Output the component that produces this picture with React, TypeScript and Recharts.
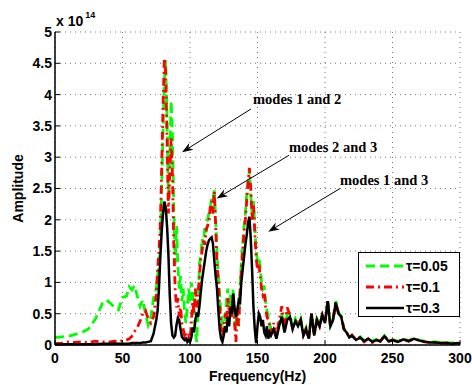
import React from "react";
import { LineChart, Line, XAxis, YAxis, CartesianGrid, ReferenceLine, ReferenceDot } from "recharts";

// frequency grid (Hz)
const FREQ = [
  0, 5, 10, 15, 20, 25, 30, 35, 38, 41, 44, 47, 50, 53, 55, 57, 59, 61, 63, 65, 67, 69, 71, 73, 75,
  76, 77, 78, 79, 80, 81, 82, 83, 84, 85,
  86, 87, 88, 89, 90, 91, 92, 93, 94, 95,
  96, 97, 98, 99, 100, 101, 102, 103, 104, 105,
  106, 107, 108, 109, 110, 111, 112, 113, 114, 115,
  116, 117, 118, 119, 120, 121, 122, 123, 124, 125,
  126, 127, 128, 129, 130, 131, 132, 133, 134, 135,
  136, 137, 138, 139, 140, 141, 142, 143, 144, 145,
  146, 147, 148, 149, 150, 151, 152, 153, 154, 155,
  156, 157, 158, 159, 160,
  162, 164, 166, 168, 170, 172, 174, 176, 178, 180,
  182, 184, 186, 188, 190, 192, 194, 196, 198, 200,
  202, 204, 206, 208, 210, 212, 214, 216, 218, 220,
  223, 226, 229, 232, 235, 238, 241, 244, 247, 250,
  254, 258, 262, 266, 270, 274, 278, 282, 286, 290, 294, 298, 300,
];

// amplitude, x 10^14
const TAU_005 = [
  0.12, 0.13, 0.14, 0.17, 0.2, 0.26, 0.42, 0.66, 0.72, 0.67, 0.6, 0.56, 0.76, 0.78, 0.93, 0.88, 0.95, 0.78, 0.62, 0.72, 0.5, 0.32, 0.45, 0.75, 0.9,
  1.1, 1.3, 1.6, 2.5, 3.4, 4.2, 4.55, 3.6, 2.3, 3.0,
  3.9, 3.4, 2.2, 1.3, 1.9, 1.3, 0.9, 1.1, 0.7, 0.9,
  0.5, 0.35, 0.6, 0.9, 0.7, 1.0, 0.8, 0.5, 0.2, 0.05,
  0.6, 1.3, 1.45, 1.7, 1.6, 1.9, 1.8, 2.0, 2.1, 2.2,
  2.35, 2.3, 2.5, 2.0, 1.5, 1.1, 0.8, 0.5, 0.35, 0.2,
  0.4, 0.7, 0.9, 0.6, 0.8, 0.5, 0.9, 0.4, 0.25, 0.6,
  0.35, 0.9, 1.3, 1.6, 1.9, 2.1, 2.4, 2.6, 2.8, 2.4,
  2.1, 2.3, 1.9, 1.5, 1.35, 1.4, 1.25, 1.0, 0.9, 0.95,
  0.7, 0.55, 0.45, 0.35, 0.25,
  0.3, 0.15, 0.35, 0.5, 0.25, 0.5, 0.5, 0.3, 0.42, 0.32,
  0.42, 0.18, 0.28, 0.12, 0.48, 0.18, 0.42, 0.32, 0.5, 0.38,
  0.72, 0.32, 0.42, 0.7, 0.52, 0.47, 0.27, 0.2, 0.13, 0.15,
  0.09, 0.13, 0.07, 0.11, 0.06, 0.09, 0.07, 0.15, 0.07, 0.09,
  0.06, 0.1, 0.07, 0.11, 0.08, 0.06, 0.05, 0.05, 0.04, 0.04, 0.03, 0.05, 0.02,
];

const TAU_01 = [
  0.02, 0.03, 0.05, 0.04, 0.05, 0.04, 0.06, 0.05, 0.05, 0.05, 0.06, 0.05, 0.07, 0.08, 0.1, 0.14, 0.22, 0.28, 0.38, 0.5, 0.55, 0.42, 0.35, 0.45, 0.8,
  1.2, 1.5, 1.9, 2.8, 3.8, 4.58, 4.35, 3.3, 2.1, 2.7,
  3.3, 2.7, 1.6, 0.9, 0.6, 0.75, 0.45, 0.6, 0.35, 0.25,
  0.15, 0.2, 0.05, 0.12, 0.05, 0.35, 0.7, 0.5, 0.9, 0.6,
  0.8, 1.1, 1.4, 1.5, 1.7, 1.6, 1.85, 1.9, 2.0, 2.2,
  2.3, 2.1, 2.45, 1.9, 1.3, 1.0, 0.6, 0.3, 0.1, 0.25,
  0.5, 0.35, 0.75, 0.5, 0.65, 0.45, 0.8, 0.35, 0.05, 0.5,
  0.3, 0.8, 1.2, 1.5, 1.8, 2.0, 2.3, 2.6, 2.83, 2.5,
  2.0, 2.25, 1.8, 1.4, 1.2, 1.3, 1.1, 0.9, 0.8, 0.85,
  0.6, 0.45, 0.4, 0.3, 0.2,
  0.35, 0.12, 0.4, 0.62, 0.22, 0.6, 0.48, 0.28, 0.4, 0.34,
  0.4, 0.16, 0.26, 0.1, 0.5, 0.16, 0.4, 0.3, 0.48, 0.36,
  0.7, 0.3, 0.42, 0.68, 0.5, 0.46, 0.26, 0.2, 0.12, 0.16,
  0.08, 0.12, 0.05, 0.1, 0.04, 0.08, 0.06, 0.15, 0.05, 0.08,
  0.05, 0.09, 0.06, 0.1, 0.07, 0.05, 0.04, 0.04, 0.03, 0.03, 0.02, 0.03, 0.02,
];

const TAU_03 = [
  0.01, 0.01, 0.01, 0.01, 0.01, 0.01, 0.01, 0.02, 0.02, 0.02, 0.02, 0.02, 0.02, 0.02, 0.02, 0.03, 0.03, 0.03, 0.03, 0.04, 0.04, 0.05, 0.06, 0.18, 0.4,
  0.55, 0.9, 1.4, 1.8, 2.1, 2.29, 2.2, 1.9, 1.45, 0.8,
  0.35, 0.15, 0.12, 0.15, 0.32, 0.43, 0.4, 0.25, 0.13, 0.1,
  0.08, 0.1, 0.05, 0.08, 0.05, 0.12, 0.28, 0.2, 0.4, 0.52,
  0.45, 0.62, 0.85, 1.05, 1.2, 1.35, 1.5, 1.6, 1.67, 1.7,
  1.72, 1.62, 1.35, 1.1, 0.9, 0.55, 0.25, 0.1, 0.05, 0.15,
  0.3, 0.2, 0.45, 0.3, 0.6, 0.5, 0.82, 0.6, 0.45, 0.55,
  0.7, 0.65, 1.0, 1.2, 1.4, 1.6, 1.75, 1.95, 2.05, 1.7,
  1.2, 0.6, 0.25, 0.03, 0.3, 0.5, 0.45, 0.3, 0.4, 0.2,
  0.15, 0.3, 0.1, 0.2, 0.15,
  0.25, 0.1, 0.3, 0.45, 0.2, 0.4, 0.45, 0.25, 0.38, 0.3,
  0.4, 0.15, 0.25, 0.1, 0.5, 0.15, 0.4, 0.3, 0.48, 0.35,
  0.7, 0.3, 0.4, 0.68, 0.5, 0.45, 0.25, 0.2, 0.12, 0.15,
  0.08, 0.12, 0.06, 0.1, 0.05, 0.08, 0.06, 0.14, 0.06, 0.08,
  0.05, 0.09, 0.06, 0.1, 0.07, 0.05, 0.04, 0.04, 0.03, 0.03, 0.02, 0.03, 0.02,
];

const X_TICKS = [0, 50, 100, 150, 200, 250, 300];
const Y_TICKS = [0, 0.5, 1, 1.5, 2, 2.5, 3, 3.5, 4, 4.5, 5];

const SERIES = [
  { key: "g", name: "τ=0.05", color: "#00ff00", dash: "9 5" },
  { key: "r", name: "τ=0.1", color: "#ff0000", dash: "8 4 2 4" },
  { key: "k", name: "τ=0.3", color: "#000000", dash: undefined },
];

// annotation text anchor + arrow (data coordinates)
const NOTES = [
  { text: "modes 1 and 2", at: [146.7, 3.85], from: [145.2, 3.77], to: [94.1, 3.08] },
  { text: "modes 2 and 3", at: [173.3, 3.09], from: [173.3, 3.03], to: [119.8, 2.34] },
  { text: "modes 1 and 3", at: [211.1, 2.56], from: [211.1, 2.5], to: [158.0, 1.81] },
];

const data = FREQ.map((f, i) => ({ f, g: TAU_005[i], r: TAU_01[i], k: TAU_03[i] }));

const SANS = "'Liberation Sans', Arial, Helvetica, sans-serif";
const SERIF = "'Liberation Serif', 'Times New Roman', serif";
const tickStyle = { fontFamily: SANS, fontWeight: "bold", fontSize: 14, fill: "#000" };

const Arrow = (p: any) => {
  const { x1, y1, x2, y2 } = p;
  const a = Math.atan2(y2 - y1, x2 - x1);
  const c = Math.cos(a), s = Math.sin(a);
  const L = 11, W = 4;
  const bx = x2 - L * c, by = y2 - L * s;
  const nx = x2 - L * 0.7 * c, ny = y2 - L * 0.7 * s;
  const pts = [
    [x2, y2],
    [bx - s * W, by + c * W],
    [nx, ny],
    [bx + s * W, by - c * W],
  ].map((q) => q.join(",")).join(" ");
  return (
    <g>
      <line x1={x1} y1={y1} x2={nx} y2={ny} stroke="#000" strokeWidth={1} />
      <polygon points={pts} fill="#000" />
    </g>
  );
};

export default function App() {
  return (
    <div style={{ position: "absolute", left: 0, top: 0, width: 472, height: 385, background: "#fff" }}>
      <LineChart width={472} height={385} data={data} margin={{ top: 32, right: 12, left: 0, bottom: 0 }}>
        <CartesianGrid stroke="#777" strokeDasharray="1 4" />
        <XAxis
          dataKey="f"
          type="number"
          domain={[0, 300]}
          ticks={X_TICKS}
          height={40}
          tick={tickStyle}
          tickSize={-5}
          tickMargin={13}
          stroke="#000"
          axisLine={{ stroke: "#000", strokeWidth: 1.5 }}
          label={{ value: "Frequency(Hz)", position: "insideBottom", offset: 4, style: { ...tickStyle } }}
        />
        <XAxis xAxisId="top" orientation="top" type="number" domain={[0, 300]} ticks={X_TICKS} height={0} tick={false} tickSize={-5} stroke="#000" />
        <YAxis
          type="number"
          domain={[0, 5]}
          ticks={Y_TICKS}
          width={55}
          tick={tickStyle}
          tickSize={-5}
          tickMargin={8}
          stroke="#000"
          axisLine={{ stroke: "#000", strokeWidth: 1.5 }}
          label={{ value: "Amplitude", angle: -90, position: "insideLeft", offset: 18, style: { ...tickStyle, textAnchor: "middle" } }}
        />
        <YAxis yAxisId="right" orientation="right" type="number" domain={[0, 5]} ticks={Y_TICKS} width={0} tick={false} tickSize={-5} stroke="#000" />
        {SERIES.map((s) => (
          <Line
            key={s.key}
            dataKey={s.key}
            type="linear"
            stroke={s.color}
            strokeWidth={s.dash ? 2.8 : 2.5}
            strokeDasharray={s.dash}
            dot={false}
            activeDot={false}
            isAnimationActive={false}
          />
        ))}
        {NOTES.map((n) => (
          <ReferenceLine
            key={"l" + n.text}
            segment={[{ x: n.from[0], y: n.from[1] }, { x: n.to[0], y: n.to[1] }]}
            shape={Arrow}
          />
        ))}
        {NOTES.map((n) => (
          <ReferenceDot
            key={"t" + n.text}
            x={n.at[0]}
            y={n.at[1]}
            r={0}
            shape={(p: any) => (
              <text x={p.cx} y={p.cy} fontFamily={SERIF} fontWeight="bold" fontSize={14.5} fill="#000">
                {n.text}
              </text>
            )}
          />
        ))}
      </LineChart>
      <svg width={472} height={40} style={{ position: "absolute", left: 0, top: 0, pointerEvents: "none" }}>
        <text x={56} y={26} fontFamily={SANS} fontWeight="bold" fontSize={14} fill="#000">
          x 10
          <tspan dx={2} dy={-8} fontSize={9}>14</tspan>
        </text>
      </svg>
      <div
        style={{
          position: "absolute",
          left: 358,
          top: 252,
          width: 100,
          height: 63,
          border: "1px solid #000",
          background: "#fff",
          fontFamily: SANS,
          fontWeight: "bold",
          fontSize: 14,
        }}
      >
        {SERIES.map((s, i) => (
          <div key={s.key} style={{ position: "absolute", left: 0, top: 3 + i * 21, height: 20, display: "flex", alignItems: "center" }}>
            <svg width={46} height={20}>
              <line x1={7} y1={10} x2={45} y2={10} stroke={s.color} strokeWidth={s.dash ? 2.8 : 2.5} strokeDasharray={s.dash} />
            </svg>
            <span style={{ marginLeft: 1 }}>{s.name}</span>
          </div>
        ))}
      </div>
    </div>
  );
}
